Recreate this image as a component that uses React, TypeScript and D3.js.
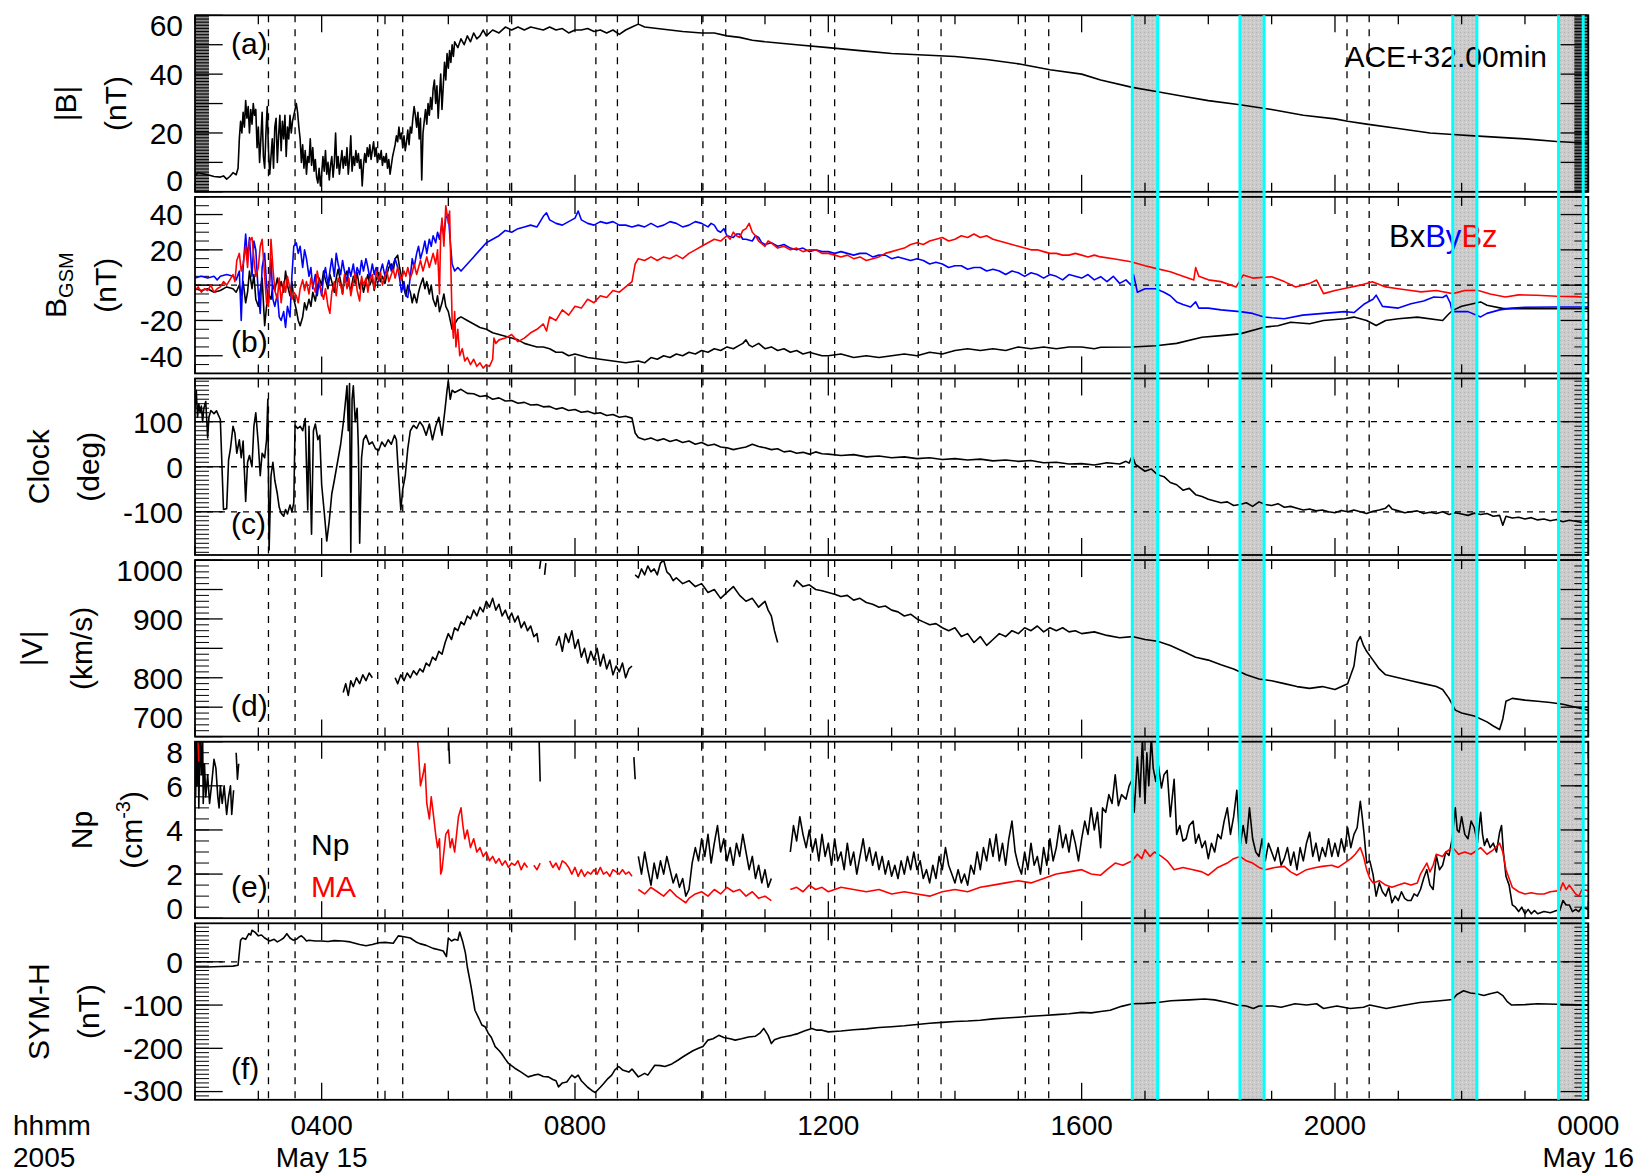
import React from "react";
import * as d3 from "d3";

type P = [number, number];

// ---------------- axis / annotation data ----------------
const HOURS_MAJOR = [4, 8, 12, 16, 20, 24];
const HOUR_LABELS = ["0400", "0800", "1200", "1600", "2000", "0000"];
const DATE_LABELS = ["May 15", "", "", "", "", "May 16"];

// marked intervals (dashed pairs); some are highlighted as grey bands
const INTERVALS: P[] = [
  [3.16, 3.58], [4.885, 5.28], [6.61, 6.97], [8.33, 8.67], [10.02, 10.38], [11.72, 12.1],
  [13.42, 13.78], [15.11, 15.48], [16.8, 17.2], [18.5, 18.88], [20.19, 20.54], [21.86, 22.24], [23.53, 23.92],
];
const HIGHLIGHT = [8, 9, 11, 12];

// ---------------- series data (hour, value) ----------------
const magB = [
  2.0,5.5, 2.05,6.5, 2.1,6.2, 2.2,5.8, 2.3,5.2, 2.4,5.0, 2.45,5.4, 2.5,4.3, 2.55,5.2, 2.6,6.5, 2.65,5.8, 2.68,8,
  2.7,18, 2.72,24, 2.74,20, 2.76,27, 2.78,22, 2.8,31, 2.82,25, 2.84,29, 2.86,20, 2.88,28, 2.9,23, 2.92,30, 2.94,26,
  2.96,28, 2.98,15, 3.0,22, 3.02,10, 3.04,18, 3.06,27, 3.08,12, 3.1,8, 3.12,20, 3.14,29, 3.16,14, 3.18,6, 3.2,12,
  3.22,18, 3.24,8, 3.26,22, 3.28,25, 3.3,10, 3.32,19, 3.34,26, 3.36,14, 3.38,24, 3.4,18, 3.42,26, 3.44,12, 3.46,22,
  3.48,18, 3.5,26, 3.52,20, 3.54,24, 3.56,26, 3.58,28, 3.6,30, 3.62,27, 3.64,22, 3.66,18, 3.68,10, 3.7,16, 3.72,8,
  3.74,14, 3.76,6, 3.78,12, 3.8,10, 3.82,18, 3.84,9, 3.86,15, 3.88,7, 3.9,11, 3.92,5, 3.94,3, 3.96,8, 3.98,2, 4.0,6,
  4.02,12, 4.04,7, 4.06,14, 4.08,6, 4.1,10, 4.12,4, 4.14,9, 4.16,12, 4.18,5, 4.2,10, 4.22,20, 4.24,8, 4.26,12, 4.28,6,
  4.3,10, 4.32,14, 4.34,8, 4.36,12, 4.38,9, 4.4,15, 4.42,6, 4.44,11, 4.46,19, 4.48,7, 4.5,12, 4.52,9, 4.54,14, 4.56,10,
  4.58,13, 4.6,8, 4.62,11, 4.64,2, 4.66,9, 4.68,13, 4.7,10, 4.72,15, 4.74,12, 4.76,16, 4.78,11, 4.8,14, 4.82,17,
  4.84,12, 4.86,15, 4.88,10, 4.9,13, 4.92,11, 4.94,14, 4.96,9, 4.98,12, 5.0,10, 5.02,13, 5.04,8, 5.06,11, 5.08,6,
  5.1,9, 5.12,12, 5.14,14, 5.16,16, 5.18,19, 5.2,17, 5.22,22, 5.24,18, 5.26,20, 5.28,15, 5.3,19, 5.32,14, 5.34,17,
  5.36,21, 5.38,16, 5.4,22, 5.42,20, 5.44,25, 5.46,29, 5.48,26, 5.5,22, 5.52,27, 5.54,18, 5.56,25, 5.58,4, 5.6,20,
  5.62,24, 5.64,28, 5.66,23, 5.68,30, 5.7,26, 5.72,32, 5.74,28, 5.76,35, 5.78,38, 5.8,30, 5.82,36, 5.84,25, 5.86,33,
  5.88,40, 5.9,28, 5.92,36, 5.94,44, 5.96,38, 5.98,47, 6.0,42, 6.02,48, 6.04,44, 6.06,50, 6.08,46, 6.1,51, 6.15,49,
  6.2,52, 6.25,50, 6.3,53, 6.35,51, 6.4,54, 6.45,52, 6.5,53, 6.55,55, 6.6,53, 6.7,55, 6.8,54, 6.9,56, 7.0,55, 7.1,56,
  7.2,55, 7.3,56, 7.4,55.5, 7.5,55, 7.6,56, 7.7,55, 7.8,55.5, 7.9,54, 8.0,55, 8.1,55, 8.2,55.5, 8.3,54.5, 8.4,55,
  8.5,54, 8.6,55, 8.7,53.5, 8.8,55, 8.9,56, 9.0,57, 9.1,56, 9.3,55.5, 9.5,55, 9.7,54.5, 10.0,54, 10.2,54, 10.4,53,
  10.6,52.5, 10.8,51.5, 11.0,51, 11.5,50, 12.0,49, 12.5,48, 13.0,47, 13.5,46.5, 14.0,46, 14.5,45, 15.0,43.5,
  15.5,41.5, 16.0,40, 16.3,38, 16.8,35.5, 17.2,34, 17.6,32.5, 18.0,31, 18.5,29.6, 19.0,28, 19.5,26, 20.0,24.8,
  20.2,24, 20.5,23, 21.0,21.5, 21.5,20, 21.86,19.5, 22.2,19, 22.6,18.5, 23.0,18, 23.5,17.1, 24.0,16.5,
];

const bxGsm = [
  2.0,-2, 2.1,-3, 2.2,-2, 2.3,-4, 2.4,-3, 2.5,-1, 2.6,-2, 2.65,-4, 2.7,0, 2.73,-6, 2.76,2, 2.8,-10, 2.83,-4, 2.86,8,
  2.9,-2, 2.93,6, 2.96,-8, 3.0,-12, 3.03,-3, 3.06,4, 3.1,-23, 3.13,-12, 3.16,-5, 3.2,-8, 3.23,0, 3.26,-3, 3.3,4,
  3.33,-2, 3.36,2, 3.4,-4, 3.43,8, 3.46,0, 3.5,-6, 3.53,2, 3.56,-8, 3.6,-14, 3.63,-20, 3.66,-23, 3.7,-18, 3.73,-10,
  3.76,-14, 3.8,-8, 3.83,-12, 3.86,-4, 3.9,-9, 3.93,-2, 3.96,4, 4.0,0, 4.03,8, 4.06,3, 4.1,-2, 4.13,6, 4.16,2, 4.2,-4,
  4.23,4, 4.26,9, 4.3,2, 4.33,-5, 4.36,4, 4.4,8, 4.43,0, 4.46,-3, 4.5,5, 4.53,1, 4.56,7, 4.6,-2, 4.63,3, 4.66,-4,
  4.7,2, 4.73,6, 4.76,0, 4.8,4, 4.83,-3, 4.86,3, 4.9,7, 4.93,2, 4.96,5, 5.0,1, 5.03,6, 5.06,10, 5.1,12, 5.13,8,
  5.16,15, 5.2,17, 5.23,10, 5.26,5, 5.3,-2, 5.33,-6, 5.36,0, 5.4,-4, 5.43,-10, 5.46,-5, 5.5,-10, 5.53,-4, 5.56,0,
  5.6,4, 5.63,-2, 5.66,2, 5.7,-5, 5.73,0, 5.76,-8, 5.8,-12, 5.83,-6, 5.86,-15, 5.9,-10, 5.93,-5, 5.96,-12, 6.0,-15,
  6.03,-20, 6.06,-25, 6.1,-22, 6.15,-19, 6.2,-18, 6.3,-20, 6.4,-22, 6.5,-24, 6.6,-25, 6.7,-27, 6.8,-28, 6.9,-29,
  7.0,-30, 7.1,-31, 7.2,-33, 7.3,-34, 7.4,-35, 7.5,-35, 7.6,-36, 7.7,-38, 7.8,-38, 7.9,-40, 8.0,-39, 8.2,-41,
  8.4,-42, 8.6,-43, 8.8,-44, 9.0,-43, 9.1,-44, 9.2,-41, 9.3,-42, 9.4,-40, 9.5,-41, 9.6,-39, 9.7,-40, 9.8,-38,
  9.9,-39, 10.0,-37, 10.1,-38, 10.2,-36, 10.3,-37, 10.4,-35, 10.5,-36, 10.6,-34, 10.65,-33, 10.7,-31, 10.75,-34,
  10.8,-35, 10.9,-33, 11.0,-36, 11.1,-35, 11.2,-37, 11.3,-36, 11.4,-38, 11.5,-37, 11.6,-39, 11.7,-38, 11.8,-39,
  11.9,-40, 12.0,-40, 12.2,-39, 12.4,-41, 12.6,-40, 12.8,-41, 13.0,-40, 13.2,-39, 13.4,-40, 13.6,-38, 13.8,-39,
  14.0,-37, 14.2,-36, 14.4,-37, 14.6,-36, 14.8,-37, 15.0,-35, 15.2,-36, 15.4,-35, 15.6,-36, 15.8,-35, 16.0,-35,
  16.2,-36, 16.3,-35.2, 16.8,-35, 17.17,-34.3, 17.5,-33, 17.9,-29.5, 18.2,-28.6, 18.5,-27.6, 18.88,-23.8, 19.1,-23,
  19.3,-21, 19.6,-21.9, 19.82,-20, 20.15,-19, 20.3,-18.1, 20.5,-20, 20.65,-22.9, 20.8,-20, 21.0,-19, 21.3,-18.1,
  21.7,-20, 21.8,-16.2, 21.86,-14.3, 22.0,-12, 22.3,-9.5, 22.4,-11.4, 22.66,-13.3, 23.0,-13.3, 24.0,-13.3,
];

const byGsm = [
  2.0,4, 2.1,5, 2.2,4, 2.3,5, 2.35,3, 2.4,5, 2.5,6, 2.6,5, 2.65,3, 2.7,8, 2.73,-20, 2.76,10, 2.8,29, 2.83,15, 2.86,27,
  2.9,5, 2.93,25, 2.96,20, 3.0,-5, 3.03,-16, 3.06,10, 3.1,18, 3.13,0, 3.16,-10, 3.2,15, 3.23,-8, 3.26,-12, 3.3,-5,
  3.33,-18, 3.36,-20, 3.4,-15, 3.43,-24, 3.46,-12, 3.5,-18, 3.53,5, 3.56,22, 3.6,24, 3.63,18, 3.66,22, 3.7,10,
  3.73,20, 3.76,15, 3.8,5, 3.83,10, 3.86,-2, 3.9,6, 3.93,-6, 3.96,2, 4.0,-6, 4.03,5, 4.06,10, 4.1,0, 4.13,8, 4.16,15,
  4.2,5, 4.23,18, 4.26,12, 4.3,6, 4.33,14, 4.36,8, 4.4,2, 4.43,10, 4.46,5, 4.5,12, 4.53,4, 4.56,10, 4.6,6, 4.63,14,
  4.66,8, 4.7,15, 4.73,10, 4.76,4, 4.8,12, 4.83,6, 4.86,10, 4.9,2, 4.93,8, 4.96,12, 5.0,5, 5.03,10, 5.06,14, 5.1,8,
  5.13,12, 5.16,15, 5.2,10, 5.23,4, 5.26,-4, 5.3,2, 5.33,-6, 5.36,-7, 5.4,5, 5.43,15, 5.46,10, 5.5,18, 5.53,22,
  5.56,15, 5.6,20, 5.63,25, 5.66,18, 5.7,26, 5.73,22, 5.76,28, 5.8,24, 5.83,30, 5.86,26, 5.9,35, 5.93,28, 5.96,38,
  6.0,40, 6.03,25, 6.06,12, 6.1,8, 6.15,10, 6.2,8, 6.3,12, 6.4,16, 6.5,20, 6.6,24, 6.7,26, 6.8,28, 6.9,31, 7.0,30,
  7.1,32, 7.2,33, 7.3,34, 7.4,33, 7.45,36, 7.5,39, 7.55,41, 7.6,37, 7.7,35, 7.8,34, 7.9,36, 8.0,38, 8.05,42, 8.1,37,
  8.2,35, 8.3,34, 8.4,36, 8.5,35, 8.6,36, 8.7,34, 8.8,34, 8.9,33, 9.0,34, 9.1,33, 9.2,35, 9.3,33, 9.4,34, 9.5,36,
  9.6,35, 9.7,33, 9.8,34, 9.9,36, 10.0,35, 10.1,33, 10.15,35, 10.2,34, 10.25,31, 10.3,30, 10.35,32, 10.4,28, 10.5,27,
  10.55,29, 10.6,29, 10.65,26, 10.7,26, 10.8,25, 10.85,28, 10.9,27, 10.95,24, 11.0,23, 11.1,24, 11.2,22, 11.3,23,
  11.4,21, 11.5,20, 11.6,21, 11.7,19, 11.8,20, 11.9,19, 12.0,19, 12.1,18, 12.2,19, 12.3,18, 12.4,17, 12.5,18,
  12.6,18, 12.7,16, 12.8,17, 12.9,17, 13.0,15, 13.1,16, 13.2,15, 13.3,14, 13.4,15, 13.5,14, 13.6,12, 13.7,13,
  13.8,12, 13.9,10, 14.0,11, 14.1,11, 14.2,9, 14.3,10, 14.4,10, 14.5,8, 14.6,9, 14.7,8, 14.8,6, 14.9,8, 15.0,7,
  15.1,5, 15.2,7, 15.3,6, 15.4,4, 15.5,6, 15.6,5, 15.7,3, 15.8,6, 15.9,5, 16.0,4, 16.1,6, 16.2,3, 16.3,4.8, 16.4,2,
  16.5,5, 16.6,1, 16.7,3, 16.78,0, 16.82,6, 16.88,-4, 17.0,-2, 17.17,-2, 17.3,-4, 17.4,-6, 17.5,-9.5, 17.6,-11,
  17.72,-12.4, 17.8,-9.5, 17.85,-13, 18.0,-13, 18.2,-14, 18.5,-15, 18.7,-16, 18.88,-18, 19.0,-18.5, 19.2,-19,
  19.49,-17, 19.82,-16, 20.15,-15, 20.3,-15.5, 20.47,-10.5, 20.6,-8, 20.65,-5.7, 20.75,-12, 21.0,-13, 21.2,-10.5,
  21.4,-9, 21.56,-6.7, 21.7,-7, 21.76,-5.7, 21.82,-10, 21.85,-15, 22.1,-15, 22.3,-18, 22.4,-16, 22.6,-14, 22.8,-13,
  23.0,-12.5, 23.5,-12.4, 24.0,-12.4,
];

const bzGsm = [
  2.0,-3, 2.05,-1, 2.1,-4, 2.15,-2, 2.2,-3, 2.25,0, 2.3,-4, 2.35,-2, 2.4,-1, 2.45,2, 2.5,0, 2.55,3, 2.6,6, 2.63,2,
  2.66,14, 2.7,18, 2.73,8, 2.76,12, 2.8,22, 2.83,10, 2.86,25, 2.9,27, 2.93,15, 2.96,5, 3.0,10, 3.03,22, 3.06,26,
  3.1,5, 3.13,-10, 3.16,-12, 3.2,26, 3.23,10, 3.26,-3, 3.3,-8, 3.33,4, 3.36,-10, 3.4,2, 3.43,-4, 3.46,5, 3.5,-2,
  3.53,-8, 3.56,-4, 3.6,-6, 3.63,-10, 3.66,-2, 3.7,3, 3.73,-3, 3.76,2, 3.8,-5, 3.83,4, 3.86,0, 3.9,-4, 3.93,8, 3.96,2,
  4.0,-4, 4.03,-8, 4.06,-2, 4.1,-12, 4.13,-16, 4.16,-4, 4.2,2, 4.23,-6, 4.26,4, 4.3,0, 4.33,-5, 4.36,6, 4.4,-2,
  4.43,4, 4.46,-6, 4.5,2, 4.53,7, 4.56,-3, 4.6,-9, 4.63,5, 4.66,0, 4.7,4, 4.73,-4, 4.76,3, 4.8,6, 4.83,-2, 4.86,8,
  4.9,3, 4.93,7, 4.96,0, 5.0,5, 5.03,8, 5.06,2, 5.1,6, 5.13,9, 5.16,4, 5.2,10, 5.23,6, 5.26,3, 5.3,8, 5.33,5, 5.36,10,
  5.4,4, 5.43,7, 5.46,12, 5.5,6, 5.53,10, 5.56,14, 5.6,8, 5.63,12, 5.66,16, 5.7,10, 5.73,14, 5.76,18, 5.8,12,
  5.83,20, 5.86,-5, 5.88,30, 5.9,38, 5.93,22, 5.96,45, 5.98,40, 6.0,35, 6.02,42, 6.04,10, 6.06,-20, 6.08,-30,
  6.1,-15, 6.12,-35, 6.15,-25, 6.18,-40, 6.22,-36, 6.26,-43, 6.3,-41, 6.35,-45, 6.4,-42, 6.45,-46, 6.5,-44,
  6.55,-47, 6.6,-45, 6.65,-46, 6.7,-42, 6.72,-30, 6.75,-33, 6.8,-31, 6.9,-30, 7.0,-28, 7.1,-32, 7.2,-30, 7.3,-27,
  7.4,-25, 7.5,-22, 7.55,-26, 7.6,-18, 7.7,-20, 7.8,-14, 7.9,-17, 8.0,-12, 8.1,-13, 8.2,-8, 8.3,-10, 8.4,-6, 8.5,-7,
  8.6,-3, 8.7,-4, 8.8,-1, 8.9,2, 8.95,12, 9.0,15, 9.1,14, 9.2,16, 9.3,14, 9.4,16, 9.5,15, 9.6,17, 9.7,15, 9.8,18,
  9.9,20, 10.0,22, 10.1,24, 10.2,26, 10.3,25, 10.4,28, 10.45,26, 10.5,30, 10.55,28, 10.6,27, 10.65,31, 10.7,32,
  10.75,35, 10.8,30, 10.85,28, 10.9,25, 11.0,22, 11.05,25, 11.1,24, 11.2,21, 11.3,22, 11.4,20, 11.5,21, 11.6,19,
  11.7,20, 11.8,20, 11.9,18, 12.0,18, 12.1,17, 12.2,16, 12.3,17, 12.4,15, 12.5,16, 12.6,14, 12.7,15, 12.8,16,
  12.9,18, 13.0,19, 13.1,20, 13.2,21, 13.3,23, 13.4,24, 13.5,23, 13.6,25, 13.7,26, 13.8,27, 13.9,25, 14.0,26,
  14.1,28, 14.2,27, 14.3,29, 14.4,27, 14.5,28, 14.6,26, 14.7,25, 14.8,24, 14.9,23, 15.0,22, 15.1,21, 15.2,20,
  15.3,20, 15.4,19, 15.5,18, 15.6,18, 15.7,17, 15.8,17, 15.9,18, 16.0,17, 16.1,16, 16.2,17, 16.3,16, 16.5,15,
  16.78,13.3, 17.0,11, 17.17,9.5, 17.4,7.6, 17.6,5, 17.77,2.9, 17.8,10, 17.85,5, 18.0,3, 18.2,2, 18.44,-1, 18.55,5.7,
  18.7,4, 19.0,4.8, 19.2,2, 19.38,-1, 19.6,1, 19.71,2.9, 19.82,-4.8, 20.0,-3, 20.15,-1.9, 20.4,0, 20.59,1.9, 20.8,-1,
  20.97,-1.9, 21.2,-3, 21.36,-3.8, 21.6,-3, 21.86,-4.8, 22.05,-3, 22.25,-2.9, 22.45,-5, 22.69,-6.7, 22.9,-5.5,
  23.18,-5.7, 23.5,-6.3, 23.8,-6.5, 24.0,-7,
];

const clockAngle = [
  2.0,130, 2.02,170, 2.04,110, 2.06,140, 2.08,120, 2.1,135, 2.12,100, 2.14,130, 2.17,145, 2.2,64, 2.22,110, 2.25,125,
  2.3,118, 2.34,124, 2.4,105, 2.45,-95, 2.5,-93, 2.53,15, 2.56,40, 2.6,90, 2.63,75, 2.66,30, 2.7,60, 2.73,20, 2.76,57,
  2.8,-77, 2.83,10, 2.86,25, 2.9,0, 2.93,90, 2.96,120, 3.0,50, 3.03,-20, 3.06,30, 3.1,20, 3.13,60, 3.15,150,
  3.17,-185, 3.2,-20, 3.23,10, 3.26,-30, 3.3,-60, 3.33,-90, 3.36,-103, 3.4,-110, 3.43,-95, 3.46,-105, 3.5,-85,
  3.53,-100, 3.56,-80, 3.58,92, 3.62,85, 3.66,90, 3.7,80, 3.74,107, 3.78,-96, 3.8,90, 3.84,-150, 3.87,80, 3.9,95,
  3.94,60, 3.97,70, 4.0,-40, 4.04,-100, 4.08,-165, 4.12,-120, 4.16,-60, 4.2,-30, 4.25,10, 4.3,50, 4.35,107, 4.4,180,
  4.42,80, 4.44,185, 4.46,-190, 4.48,150, 4.5,180, 4.53,100, 4.56,130, 4.58,40, 4.6,-170, 4.63,20, 4.66,60, 4.7,70,
  4.75,50, 4.8,55, 4.85,40, 4.9,36, 4.95,55, 5.0,45, 5.05,60, 5.1,50, 5.15,70, 5.18,60, 5.21,-11, 5.25,-96, 5.28,-50,
  5.32,-20, 5.36,40, 5.4,80, 5.45,92, 5.5,85, 5.55,100, 5.6,90, 5.65,70, 5.7,95, 5.75,60, 5.8,90, 5.85,110, 5.9,70,
  5.95,130, 5.98,170, 6.0,190, 6.03,150, 6.06,170, 6.1,165, 6.2,172, 6.3,163, 6.4,162, 6.5,156, 6.6,158, 6.7,150,
  6.8,153, 6.9,146, 7.0,147, 7.1,141, 7.2,143, 7.3,137, 7.4,138, 7.5,133, 7.6,134, 7.7,128, 7.8,131, 7.9,125,
  8.0,127, 8.1,121, 8.2,123, 8.3,118, 8.4,120, 8.5,114, 8.6,116, 8.7,110, 8.8,112, 8.9,108, 8.95,75, 9.0,65, 9.1,60,
  9.2,64, 9.3,58, 9.4,62, 9.5,56, 9.6,60, 9.7,54, 9.8,57, 9.9,50, 10.0,54, 10.1,47, 10.2,50, 10.3,44, 10.4,42,
  10.5,38, 10.6,41, 10.7,44, 10.8,50, 10.9,45, 11.0,42, 11.1,38, 11.2,40, 11.3,33, 11.4,35, 11.5,30, 11.6,32,
  11.7,28, 11.8,33, 11.9,29, 12.0,28, 12.2,25, 12.4,27, 12.6,22, 12.8,24, 13.0,20, 13.2,22, 13.4,18, 13.6,20,
  13.8,16, 14.0,18, 14.2,15, 14.4,17, 14.6,13, 14.8,15, 15.0,12, 15.2,14, 15.4,9, 15.6,10, 15.8,6, 16.0,7, 16.2,4,
  16.4,9, 16.6,6, 16.7,12, 16.75,8, 16.8,25, 16.85,5, 17.0,-10, 17.1,-5, 17.2,-18, 17.3,-22, 17.4,-35, 17.5,-40,
  17.6,-52, 17.7,-48, 17.8,-62, 17.9,-66, 18.0,-72, 18.1,-76, 18.2,-80, 18.3,-78, 18.4,-86, 18.5,-84, 18.6,-80,
  18.7,-88, 18.8,-78, 18.9,-84, 19.0,-86, 19.1,-82, 19.2,-90, 19.3,-88, 19.4,-92, 19.5,-96, 19.6,-94, 19.7,-98,
  19.8,-96, 19.9,-100, 20.0,-102, 20.1,-97, 20.2,-100, 20.3,-96, 20.4,-100, 20.5,-104, 20.6,-99, 20.7,-96, 20.8,-92,
  20.85,-85, 20.9,-94, 21.0,-98, 21.1,-102, 21.2,-100, 21.3,-98, 21.4,-104, 21.5,-101, 21.6,-104, 21.7,-100,
  21.8,-106, 21.9,-102, 22.0,-105, 22.1,-108, 22.2,-103, 22.3,-106, 22.4,-104, 22.5,-110, 22.6,-108, 22.65,-130,
  22.7,-110, 22.8,-114, 22.9,-112, 23.0,-116, 23.1,-113, 23.2,-118, 23.3,-116, 23.4,-120, 23.5,-117, 23.6,-122,
  23.7,-119, 23.8,-121, 23.9,-124, 24.0,-122,
];

// NaN marks a data gap
const speedV = [
  4.34,775, 4.38,790, 4.42,770, 4.46,795, 4.5,785, 4.55,800, 4.6,790, 4.65,805, 4.7,795, 4.75,808, 4.8,800, 4.85,NaN,
  5.16,800, 5.2,790, 5.25,805, 5.3,795, 5.35,808, 5.4,800, 5.45,812, 5.5,805, 5.55,815, 5.6,810, 5.65,825, 5.7,820,
  5.75,835, 5.8,830, 5.85,845, 5.9,840, 5.95,860, 6.0,875, 6.05,865, 6.1,885, 6.15,880, 6.2,895, 6.25,890, 6.3,905,
  6.35,900, 6.4,915, 6.45,905, 6.5,920, 6.55,912, 6.6,930, 6.65,920, 6.7,935, 6.75,915, 6.8,925, 6.85,905, 6.9,915,
  6.95,900, 7.0,910, 7.05,895, 7.1,905, 7.15,885, 7.2,895, 7.25,880, 7.3,888, 7.35,870, 7.4,875, 7.42,860, 7.43,NaN,
  7.44,985, 7.46,1000, 7.47,NaN, 7.52,975, 7.54,995, 7.6,NaN,
  7.7,855, 7.75,870, 7.8,845, 7.85,875, 7.9,860, 7.95,880, 8.0,850, 8.05,865, 8.1,835, 8.15,850, 8.2,825, 8.25,845,
  8.3,830, 8.35,850, 8.4,820, 8.45,840, 8.5,815, 8.55,830, 8.6,805, 8.65,820, 8.7,810, 8.75,825, 8.8,800, 8.85,815,
  8.9,820, 8.93,NaN,
  8.95,975, 9.0,970, 9.05,985, 9.1,975, 9.15,990, 9.2,980, 9.25,985, 9.3,975, 9.35,995, 9.4,1000, 9.45,980, 9.5,975,
  9.55,965, 9.6,970, 9.7,960, 9.8,965, 9.9,955, 10.0,960, 10.1,945, 10.2,950, 10.3,935, 10.4,945, 10.5,955, 10.6,940,
  10.7,930, 10.8,935, 10.9,920, 11.0,930, 11.05,915, 11.1,905, 11.15,880, 11.2,860, 11.3,NaN,
  11.45,955, 11.5,965, 11.6,955, 11.7,958, 11.8,950, 11.9,948, 12.0,945, 12.1,942, 12.2,938, 12.3,940, 12.4,932,
  12.5,935, 12.6,928, 12.7,925, 12.8,920, 12.9,922, 13.0,915, 13.1,912, 13.2,905, 13.3,908, 13.4,900, 13.5,895,
  13.6,890, 13.7,892, 13.8,885, 13.9,880, 14.0,885, 14.1,870, 14.2,875, 14.3,860, 14.4,870, 14.5,855, 14.6,865,
  14.7,875, 14.8,870, 14.9,880, 15.0,875, 15.1,885, 15.2,880, 15.3,888, 15.4,878, 15.5,885, 15.6,880, 15.7,885,
  15.8,878, 15.9,880, 16.0,875, 16.2,878, 16.4,872, 16.6,868, 16.8,870, 17.0,865, 17.2,862, 17.4,855, 17.6,845,
  17.8,835, 18.0,830, 18.2,822, 18.4,815, 18.6,805, 18.8,798, 19.0,795, 19.2,790, 19.4,785, 19.6,782, 19.8,785,
  20.0,780, 20.2,790, 20.3,820, 20.35,860, 20.4,870, 20.45,855, 20.5,845, 20.6,830, 20.7,815, 20.8,805, 21.0,800,
  21.2,795, 21.4,790, 21.6,785, 21.7,780, 21.8,765, 21.9,745, 22.0,740, 22.2,735, 22.4,725, 22.5,718, 22.6,712,
  22.65,730, 22.7,760, 22.8,765, 23.0,762, 23.2,760, 23.4,758, 23.6,755, 23.8,750, 24.0,745,
];

const protonDensity = [
  2.0,8.5, 2.01,5.5, 2.02,8.5, 2.03,6, 2.05,8.5, 2.06,5, 2.08,8.5, 2.1,6.5, 2.12,8.5, 2.13,5.2, 2.15,7, 2.17,5.5,
  2.2,6.5, 2.23,5.2, 2.26,6, 2.3,7.2, 2.33,6.8, 2.36,5.5, 2.38,5, 2.4,6, 2.43,5.2, 2.46,6, 2.5,4.7, 2.53,5.5, 2.56,6,
  2.58,4.7, 2.61,5.8, 2.63,NaN, 2.65,7.5, 2.67,6.3, 2.69,7, 2.7,NaN,
  6.0,8.5, 6.02,7.0, 6.03,NaN, 7.43,8.5, 7.45,6.2, 7.46,NaN, 8.93,7.3, 8.95,6.3, 8.97,NaN,
  9.0,2.8, 9.05,2.0, 9.1,3.0, 9.15,2.2, 9.2,1.5, 9.25,2.5, 9.3,1.8, 9.35,2.6, 9.4,2.0, 9.45,2.8, 9.5,2.2, 9.55,1.6,
  9.6,2.0, 9.65,1.4, 9.7,1.8, 9.75,1.0, 9.8,1.3, 9.85,2.5, 9.9,3.2, 9.95,2.6, 10.0,3.6, 10.05,2.8, 10.1,3.8,
  10.15,2.5, 10.2,3.4, 10.25,4.2, 10.3,3.0, 10.35,3.6, 10.4,2.6, 10.45,3.2, 10.5,2.4, 10.55,3.4, 10.6,2.8, 10.65,3.8,
  10.7,3.0, 10.75,2.2, 10.8,2.8, 10.85,1.8, 10.9,2.4, 10.95,1.6, 11.0,2.2, 11.05,1.4, 11.1,1.8, 11.2,NaN,
  11.4,3.0, 11.45,4.2, 11.5,3.5, 11.55,4.6, 11.6,3.8, 11.65,3.2, 11.7,4.0, 11.75,3.0, 11.8,3.6, 11.85,2.6, 11.9,3.8,
  11.95,2.8, 12.0,3.4, 12.05,2.4, 12.1,3.6, 12.15,2.6, 12.2,3.0, 12.25,2.2, 12.3,3.4, 12.35,2.4, 12.4,3.0, 12.45,2.0,
  12.5,2.8, 12.55,3.6, 12.6,2.6, 12.65,3.2, 12.7,2.4, 12.75,3.0, 12.8,2.2, 12.85,2.8, 12.9,2.0, 12.95,2.6, 13.0,1.9,
  13.05,2.4, 13.1,1.8, 13.15,2.6, 13.2,2.0, 13.25,2.8, 13.3,2.2, 13.35,3.0, 13.4,2.2, 13.45,2.6, 13.5,1.8, 13.55,2.2,
  13.6,1.6, 13.65,2.4, 13.7,1.8, 13.75,2.8, 13.8,2.2, 13.85,3.2, 13.9,2.4, 13.95,2.0, 14.0,1.6, 14.05,2.2, 14.1,1.6,
  14.15,2.0, 14.2,1.5, 14.25,2.4, 14.3,2.0, 14.35,3.0, 14.4,2.2, 14.45,3.2, 14.5,2.6, 14.55,3.6, 14.6,2.8, 14.65,3.8,
  14.7,2.6, 14.75,3.4, 14.8,2.4, 14.85,3.6, 14.9,4.4, 14.95,3.0, 15.0,2.4, 15.05,2.0, 15.1,3.0, 15.15,2.2, 15.2,3.4,
  15.25,2.4, 15.3,2.8, 15.35,2.0, 15.4,3.2, 15.45,2.4, 15.5,3.6, 15.55,2.6, 15.6,3.2, 15.65,4.2, 15.7,3.2, 15.75,3.8,
  15.8,3.0, 15.85,4.0, 15.9,3.4, 15.95,2.6, 16.0,3.6, 16.05,4.4, 16.1,3.8, 16.15,5.0, 16.2,4.0, 16.25,4.8, 16.3,3.2,
  16.33,5.0, 16.38,4.8, 16.43,5.6, 16.48,5.2, 16.53,6.5, 16.58,5.1, 16.63,5.6, 16.7,5.4, 16.75,6.0, 16.8,6.3,
  16.83,4.8, 16.88,7.3, 16.92,5.5, 16.96,8.2, 17.0,5.2, 17.03,7.5, 17.06,6.0, 17.1,8.2, 17.13,6.8, 17.17,6.2,
  17.21,7.0, 17.26,5.9, 17.3,6.5, 17.35,6.7, 17.4,4.6, 17.46,6.3, 17.5,3.8, 17.55,4.2, 17.6,3.5, 17.65,3.6, 17.7,4.2,
  17.76,4.4, 17.8,3.4, 17.85,3.8, 17.9,3.2, 17.95,3.5, 18.0,2.7, 18.05,3.4, 18.1,3.0, 18.15,3.8, 18.2,3.6, 18.25,4.4,
  18.3,5.0, 18.35,3.8, 18.4,4.6, 18.45,5.8, 18.5,3.2, 18.55,4.2, 18.6,3.4, 18.65,5.0, 18.7,3.6, 18.75,3.0, 18.8,2.8,
  18.85,3.6, 18.9,2.6, 18.95,3.4, 19.0,3.0, 19.05,2.6, 19.1,3.2, 19.15,2.4, 19.2,2.7, 19.25,3.2, 19.3,2.4, 19.35,3.0,
  19.4,2.2, 19.45,3.2, 19.5,2.6, 19.55,3.4, 19.6,3.9, 19.65,2.8, 19.7,3.4, 19.75,2.6, 19.8,3.2, 19.85,2.8, 19.9,3.6,
  19.95,2.8, 20.0,3.4, 20.05,2.8, 20.1,3.6, 20.15,3.0, 20.2,4.1, 20.25,3.2, 20.3,3.8, 20.35,4.1, 20.4,5.3, 20.43,4.6,
  20.46,3.8, 20.5,2.5, 20.55,2.6, 20.6,2.0, 20.65,1.0, 20.7,1.6, 20.75,1.2, 20.8,1.0, 20.85,1.4, 20.9,0.7, 20.95,1.0,
  21.0,0.8, 21.05,1.2, 21.1,0.9, 21.15,0.8, 21.2,0.8, 21.25,1.1, 21.3,1.0, 21.35,1.3, 21.4,1.8, 21.45,2.2, 21.5,1.5,
  21.55,1.3, 21.6,2.85, 21.65,2.2, 21.7,2.4, 21.75,3.0, 21.8,2.85, 21.85,3.6, 21.9,5.0, 21.93,4.0, 21.96,3.9,
  22.0,4.6, 22.05,3.8, 22.1,3.6, 22.15,4.4, 22.2,4.1, 22.25,3.4, 22.3,4.8, 22.33,3.8, 22.36,3.3, 22.4,3.6, 22.45,3.2,
  22.5,3.4, 22.55,3.0, 22.6,3.9, 22.63,4.2, 22.66,3.0, 22.7,1.9, 22.75,1.5, 22.8,0.6, 22.85,0.5, 22.9,0.3, 22.95,0.5,
  23.0,0.2, 23.05,0.4, 23.1,0.2, 23.15,0.35, 23.2,0.2, 23.3,0.3, 23.4,0.25, 23.5,0.35, 23.55,0.35, 23.6,0.8,
  23.65,0.6, 23.7,0.6, 23.75,0.3, 23.8,0.4, 23.85,0.3, 23.9,0.5, 23.95,0.45, 24.0,0.4,
];

const machAlfven = [
  2.04,8.5, 2.06,7.1, 2.07,NaN,
  5.5,8.5, 5.53,7.5, 5.56,6.0, 5.6,6.5, 5.63,7.0, 5.66,5.2, 5.7,4.5, 5.73,5.5, 5.76,4.8, 5.8,3.8, 5.83,3.2, 5.86,3.6,
  5.88,2.0, 5.9,2.2, 5.93,3.0, 5.96,3.8, 6.0,4.0, 6.03,3.2, 6.06,3.6, 6.1,3.0, 6.13,3.8, 6.16,4.6, 6.2,5.0, 6.23,4.2,
  6.26,3.6, 6.3,4.0, 6.35,3.2, 6.4,3.6, 6.45,3.0, 6.5,3.2, 6.55,2.8, 6.6,3.0, 6.65,2.6, 6.7,2.8, 6.75,2.5, 6.8,2.7,
  6.85,2.4, 6.9,2.6, 6.95,2.3, 7.0,2.5, 7.05,2.4, 7.1,2.6, 7.15,2.2, 7.2,2.5, 7.25,2.3, 7.3,NaN,
  7.35,2.4, 7.4,2.2, 7.45,2.5, 7.5,NaN,
  7.6,2.6, 7.65,2.3, 7.7,2.5, 7.75,2.2, 7.8,2.6, 7.85,2.5, 7.9,2.3, 7.95,2.0, 8.0,2.3, 8.05,1.9, 8.1,2.2, 8.15,1.9,
  8.2,2.1, 8.25,2.0, 8.3,2.2, 8.35,2.0, 8.4,2.3, 8.45,2.0, 8.5,2.1, 8.55,1.9, 8.6,2.2, 8.65,2.1, 8.7,2.0, 8.75,2.2,
  8.8,2.0, 8.85,2.1, 8.9,1.9, 8.95,NaN,
  9.0,1.3, 9.1,1.1, 9.2,1.4, 9.3,1.2, 9.4,1.0, 9.5,1.3, 9.6,1.0, 9.7,0.8, 9.75,0.7, 9.8,0.9, 9.9,1.1, 10.0,1.2,
  10.1,1.0, 10.2,1.3, 10.3,1.1, 10.4,1.4, 10.5,1.2, 10.6,1.3, 10.7,1.0, 10.8,1.2, 10.9,0.9, 11.0,1.0, 11.1,0.8,
  11.2,NaN,
  11.4,1.3, 11.5,1.4, 11.6,1.2, 11.7,1.5, 11.8,1.3, 11.9,1.4, 12.0,1.2, 12.2,1.4, 12.4,1.3, 12.6,1.2, 12.8,1.3,
  13.0,1.1, 13.2,1.2, 13.4,1.1, 13.6,1.0, 13.8,1.2, 14.0,1.3, 14.2,1.2, 14.4,1.4, 14.6,1.5, 14.8,1.6, 15.0,1.7,
  15.2,1.6, 15.4,1.8, 15.6,2.0, 15.8,2.1, 16.0,2.2, 16.15,2.0, 16.3,1.95, 16.4,2.2, 16.53,2.5, 16.65,2.4, 16.8,2.6,
  16.88,2.9, 16.95,2.7, 17.0,3.1, 17.08,2.8, 17.15,3.0, 17.26,2.8, 17.35,2.6, 17.46,2.2, 17.6,2.3, 17.76,2.2,
  17.9,2.1, 18.0,1.95, 18.15,2.3, 18.3,2.5, 18.4,2.7, 18.5,2.8, 18.6,2.6, 18.7,2.5, 18.8,2.3, 18.9,2.2, 19.05,2.3,
  19.2,2.35, 19.3,2.1, 19.4,1.95, 19.55,2.2, 19.7,2.3, 19.8,2.35, 19.95,2.4, 20.05,2.3, 20.15,2.5, 20.25,2.7,
  20.32,2.9, 20.4,3.2, 20.45,2.8, 20.5,2.2, 20.55,1.8, 20.6,1.6, 20.7,1.7, 20.8,1.5, 20.9,1.4, 21.0,1.5, 21.1,1.6,
  21.2,1.5, 21.3,1.6, 21.35,2.0, 21.45,2.5, 21.5,2.1, 21.55,2.4, 21.6,2.9, 21.7,2.8, 21.75,3.0, 21.86,3.2, 21.95,2.9,
  22.05,3.0, 22.15,2.9, 22.3,3.2, 22.4,2.9, 22.5,3.1, 22.6,3.4, 22.65,3.0, 22.7,2.2, 22.75,1.8, 22.8,1.4, 22.9,1.2,
  23.0,1.1, 23.1,1.15, 23.2,1.1, 23.3,1.1, 23.4,1.2, 23.55,1.25, 23.6,1.6, 23.65,1.3, 23.7,1.5, 23.8,1.1, 23.85,1.0,
  23.9,1.3, 24.0,1.25,
];

const symH = [
  2.0,-12, 2.2,-12, 2.4,-11, 2.6,-10, 2.68,-8, 2.72,50, 2.75,55, 2.8,52, 2.85,65, 2.88,62, 2.9,73, 2.95,68, 3.0,60,
  3.05,62, 3.1,55, 3.18,48, 3.25,52, 3.3,46, 3.35,50, 3.4,55, 3.45,65, 3.5,55, 3.55,50, 3.6,52, 3.65,58, 3.68,60,
  3.72,55, 3.76,48, 3.8,50, 3.9,48, 4.0,48, 4.1,47, 4.2,49, 4.33,48, 4.45,46, 4.6,40, 4.7,37, 4.8,40, 4.9,44, 5.0,45,
  5.13,43, 5.21,60, 5.3,58, 5.4,55, 5.5,45, 5.55,42, 5.65,38, 5.76,31, 5.85,28, 5.92,25, 5.97,12, 6.0,55, 6.05,48,
  6.1,52, 6.15,50, 6.18,69, 6.23,45, 6.27,20, 6.3,-12, 6.36,-58, 6.42,-112, 6.48,-130, 6.53,-146, 6.58,-150,
  6.63,-165, 6.68,-175, 6.74,-196, 6.8,-205, 6.84,-212, 6.9,-225, 6.95,-235, 7.05,-246, 7.15,-255, 7.26,-266,
  7.35,-262, 7.42,-260, 7.5,-265, 7.58,-266, 7.65,-272, 7.7,-275, 7.74,-289, 7.8,-280, 7.87,-278, 7.95,-262,
  8.0,-268, 8.05,-262, 8.1,-275, 8.2,-290, 8.27,-298, 8.32,-302, 8.4,-290, 8.45,-282, 8.52,-270, 8.58,-262,
  8.63,-250, 8.69,-242, 8.75,-250, 8.85,-255, 8.9,-248, 9.0,-266, 9.1,-258, 9.15,-262, 9.26,-239, 9.35,-240,
  9.42,-242, 9.53,-236, 9.63,-227, 9.7,-220, 9.79,-212, 9.87,-205, 9.95,-200, 10.02,-196, 10.1,-181, 10.18,-178,
  10.27,-170, 10.35,-175, 10.45,-178, 10.53,-181, 10.63,-178, 10.74,-174, 10.85,-172, 10.92,-165, 10.98,-154,
  11.05,-170, 11.1,-189, 11.15,-180, 11.25,-175, 11.35,-172, 11.42,-170, 11.52,-166, 11.62,-160, 11.74,-154,
  11.82,-158, 11.9,-158, 12.0,-162, 12.2,-160, 12.4,-157, 12.6,-155, 12.8,-152, 13.0,-150, 13.2,-148, 13.4,-145,
  13.6,-142, 13.8,-140, 14.0,-138, 14.2,-137, 14.4,-135, 14.6,-132, 14.8,-130, 15.0,-128, 15.2,-126, 15.4,-124,
  15.6,-122, 15.8,-120, 16.0,-117, 16.15,-118, 16.3,-115, 16.45,-112, 16.63,-103, 16.8,-97, 17.0,-96, 17.2,-94,
  17.41,-90, 17.7,-88, 17.94,-86, 18.1,-88, 18.3,-94, 18.45,-100, 18.6,-102, 18.71,-108, 18.8,-102, 19.02,-102,
  19.15,-105, 19.37,-97, 19.55,-100, 19.71,-97, 19.82,-108, 20.03,-102, 20.24,-108, 20.45,-105, 20.55,-100,
  20.81,-108, 21.02,-102, 21.34,-94, 21.66,-90, 21.86,-87, 21.92,-76, 22.03,-67, 22.14,-72, 22.24,-74, 22.35,-78,
  22.45,-74, 22.57,-70, 22.65,-78, 22.72,-92, 22.79,-100, 23.0,-99, 23.2,-97, 23.5,-98, 24.0,-100,
];

// ---------------- layout ----------------
const W = 1648;
const H = 1176;
const X0 = 195;
const X1 = 1588.3;
const TOP0 = 15.3;
const STEP = 181.6;
const PH = 176.5;
const FONT = "'Liberation Sans', Arial, Helvetica, sans-serif";
const FS = 30;
const FSX = 28;
const EDGE = 10;
const MIN_GAP = 34.5;

type Series = { data: number[]; color: string };
type Panel = {
  domain: [number, number];
  labels: number[];
  major: number;
  minor: number;
  dashed: number[];
  letter: string;
  letterTop?: boolean;
  title: React.ReactNode;
  unit: React.ReactNode;
  series: Series[];
};

const PANELS: Panel[] = [
  { domain: [0, 60], labels: [0, 20, 40, 60], major: 10, minor: 0.5, dashed: [], letter: "(a)", letterTop: true,
    title: "|B|", unit: "(nT)", series: [{ data: magB, color: "#000" }] },
  { domain: [-50, 50], labels: [-40, -20, 0, 20, 40], major: 20, minor: 5, dashed: [0], letter: "(b)",
    title: (<>B<tspan fontSize={20} dy={7}>GSM</tspan></>), unit: "(nT)",
    series: [{ data: bxGsm, color: "#000" }, { data: byGsm, color: "#0000ff" }, { data: bzGsm, color: "#ff0000" }] },
  { domain: [-196, 196], labels: [-100, 0, 100], major: 100, minor: 10, dashed: [-100, 0, 100], letter: "(c)",
    title: "Clock", unit: "(deg)", series: [{ data: clockAngle, color: "#000" }] },
  { domain: [700, 1000], labels: [700, 800, 900, 1000], major: 50, minor: 10, dashed: [], letter: "(d)",
    title: "|V|", unit: "(km/s)", series: [{ data: speedV, color: "#000" }] },
  { domain: [0, 8], labels: [0, 2, 4, 6, 8], major: 2, minor: 0.5, dashed: [], letter: "(e)",
    title: "Np", unit: (<>(cm<tspan fontSize={20} dy={-12}>-3</tspan><tspan dy={12}>)</tspan></>),
    series: [{ data: protonDensity, color: "#000" }, { data: machAlfven, color: "#ff0000" }] },
  { domain: [-319, 89], labels: [-300, -200, -100, 0], major: 100, minor: 10, dashed: [0], letter: "(f)",
    title: "SYM-H", unit: "(nT)", series: [{ data: symH, color: "#000" }] },
];

function pairs(a: number[]): P[] {
  const out: P[] = [];
  for (let i = 0; i + 1 < a.length; i += 2) out.push([a[i], a[i + 1]]);
  return out;
}

function stepTicks(d0: number, d1: number, step: number): number[] {
  const lo = Math.min(d0, d1), hi = Math.max(d0, d1);
  const s = Math.ceil(lo / step - 1e-9), e = Math.floor(hi / step + 1e-9);
  const out: number[] = [];
  for (let i = s; i <= e; i++) out.push(+(i * step).toFixed(6));
  return out;
}

function textWidth(s: string, fs: number): number {
  let w = 0;
  for (const c of s) w += c === "-" ? 0.333 : 0.556;
  return w * fs;
}

const x = d3.scaleLinear().domain([2, 24]).range([X0, X1]);
const panelTops = PANELS.map((_, i) => TOP0 + i * STEP);
const yScales = PANELS.map((p, i) =>
  d3.scaleLinear().domain(p.domain).range([panelTops[i] + PH, panelTops[i]]));

// vertical centres of the y tick labels, kept inside each frame and clear of the neighbour panel's labels
const labelCenters: number[][] = PANELS.map((p, i) => {
  const top = panelTops[i];
  const bot = top + PH;
  return p.labels.map((v) => Math.min(Math.max(yScales[i](v), top + EDGE), bot - EDGE));
});
for (let i = 0; i < PANELS.length - 1; i++) {
  const cur = labelCenters[i];
  const nxt = labelCenters[i + 1];
  const lowest = Math.max(...cur);
  const highest = Math.min(...nxt);
  if (highest - lowest < MIN_GAP) {
    const k = cur.indexOf(lowest);
    cur[k] = highest - MIN_GAP;
  }
}

export default function App() {
  const hourMinor = d3.range(2, 25, 1);
  const yTop = TOP0;
  const yBot = TOP0 + 5 * STEP + PH;

  return (
    <svg width={W} height={H} viewBox={`0 0 ${W} ${H}`}
      style={{ position: "absolute", left: 0, top: 0, display: "block", background: "#fff" }}
      fontFamily={FONT}>
      <defs>
        <pattern id="stipple" width={4} height={4} patternUnits="userSpaceOnUse">
          <rect width={4} height={4} fill="#cbcbcb" />
          <rect x={0} y={0} width={1} height={1} fill="#b2b2b2" />
          <rect x={2} y={2} width={1} height={1} fill="#e0e0e0" />
        </pattern>
        {PANELS.map((_, i) => (
          <clipPath id={`clip${i}`} key={i}>
            <rect x={X0} y={panelTops[i]} width={X1 - X0} height={PH} />
          </clipPath>
        ))}
      </defs>

      {HIGHLIGHT.map((k) => (
        <rect key={`band${k}`} x={x(INTERVALS[k][0])} y={yTop} width={x(INTERVALS[k][1]) - x(INTERVALS[k][0])}
          height={yBot - yTop} fill="url(#stipple)" />
      ))}

      {PANELS.map((p, i) => {
        const top = panelTops[i];
        const bot = top + PH;
        const y = yScales[i];
        const line = d3.line<P>().defined((d) => !isNaN(d[1])).x((d) => x(d[0])).y((d) => y(d[1]));
        const majors = stepTicks(p.domain[0], p.domain[1], p.major);
        const minors = stepTicks(p.domain[0], p.domain[1], p.minor);
        const maxW = Math.max(...p.labels.map((v) => textWidth(String(v), FS)));
        const unitX = 183 - maxW - 24;
        const titleX = unitX - 50;
        const cy = (top + bot) / 2;
        return (
          <g key={i}>
            {p.dashed.map((v) => (
              <line key={`hd${v}`} x1={X0} x2={X1} y1={y(v)} y2={y(v)} stroke="#000" strokeWidth={1.3}
                strokeDasharray="6,6" />
            ))}
            {INTERVALS.flat().map((h, j) => (
              <line key={`vd${j}`} x1={x(h)} x2={x(h)} y1={top} y2={bot} stroke="#000" strokeWidth={1.3}
                strokeDasharray="7,7" />
            ))}
            {minors.map((v) => (
              <g key={`ym${v}`}>
                <line x1={X0} x2={X0 + 14} y1={y(v)} y2={y(v)} stroke="#000" strokeWidth={1} />
                <line x1={X1} x2={X1 - 14} y1={y(v)} y2={y(v)} stroke="#000" strokeWidth={1} />
              </g>
            ))}
            {majors.map((v) => (
              <g key={`yM${v}`}>
                <line x1={X0} x2={X0 + 27.7} y1={y(v)} y2={y(v)} stroke="#000" strokeWidth={1.3} />
                <line x1={X1} x2={X1 - 27.7} y1={y(v)} y2={y(v)} stroke="#000" strokeWidth={1.3} />
              </g>
            ))}
            {hourMinor.map((h) => {
              const len = h % 4 === 0 ? 17 : 9;
              return (
                <g key={`xt${h}`}>
                  <line x1={x(h)} x2={x(h)} y1={bot} y2={bot - len} stroke="#000" strokeWidth={1.3} />
                  <line x1={x(h)} x2={x(h)} y1={top} y2={top + len} stroke="#000" strokeWidth={1.3} />
                </g>
              );
            })}
            <g clipPath={`url(#clip${i})`}>
              {p.series.map((s, k) => (
                <path key={k} d={line(pairs(s.data)) || ""} fill="none" stroke={s.color} strokeWidth={1.6}
                  strokeLinejoin="round" />
              ))}
            </g>
            <rect x={X0} y={top} width={X1 - X0} height={PH} fill="none" stroke="#000" strokeWidth={1.8} />
            {p.labels.map((v, k) => (
              <text key={`yl${v}`} x={183} y={labelCenters[i][k] + 0.36 * FS} fontSize={FS} textAnchor="end">
                {v}
              </text>
            ))}
            <text x={titleX} y={cy} fontSize={FS} textAnchor="middle" transform={`rotate(-90, ${titleX}, ${cy})`}>
              {p.title}
            </text>
            <text x={unitX} y={cy} fontSize={FS} textAnchor="middle" transform={`rotate(-90, ${unitX}, ${cy})`}>
              {p.unit}
            </text>
            <text x={231} y={p.letterTop ? top + 39 : bot - 21} fontSize={FS}>
              {p.letter}
            </text>
          </g>
        );
      })}

      <text x={1547} y={67} fontSize={FS} textAnchor="end">ACE+32.00min</text>
      <text x={1389} y={247} fontSize={31}>
        <tspan fill="#000">Bx</tspan>
        <tspan fill="#0000ff">By</tspan>
        <tspan fill="#ff0000">Bz</tspan>
      </text>
      <text x={311} y={855} fontSize={FS} fill="#000">Np</text>
      <text x={311} y={897} fontSize={FS} fill="#ff0000">MA</text>

      {HIGHLIGHT.map((k) => (
        <g key={`cy${k}`}>
          <line x1={x(INTERVALS[k][0])} x2={x(INTERVALS[k][0])} y1={yTop} y2={yBot} stroke="#00ffff" strokeWidth={3} />
          <line x1={x(INTERVALS[k][1])} x2={x(INTERVALS[k][1])} y1={yTop} y2={yBot} stroke="#00ffff" strokeWidth={3} />
        </g>
      ))}

      <text x={13} y={1135} fontSize={FSX}>hhmm</text>
      <text x={13} y={1167} fontSize={FSX}>2005</text>
      {HOURS_MAJOR.map((h, i) => (
        <g key={`xl${h}`}>
          <text x={x(h)} y={1135} fontSize={FSX} textAnchor="middle">{HOUR_LABELS[i]}</text>
          {DATE_LABELS[i] && (
            <text x={x(h)} y={1167} fontSize={FSX} textAnchor="middle">{DATE_LABELS[i]}</text>
          )}
        </g>
      ))}
    </svg>
  );
}
